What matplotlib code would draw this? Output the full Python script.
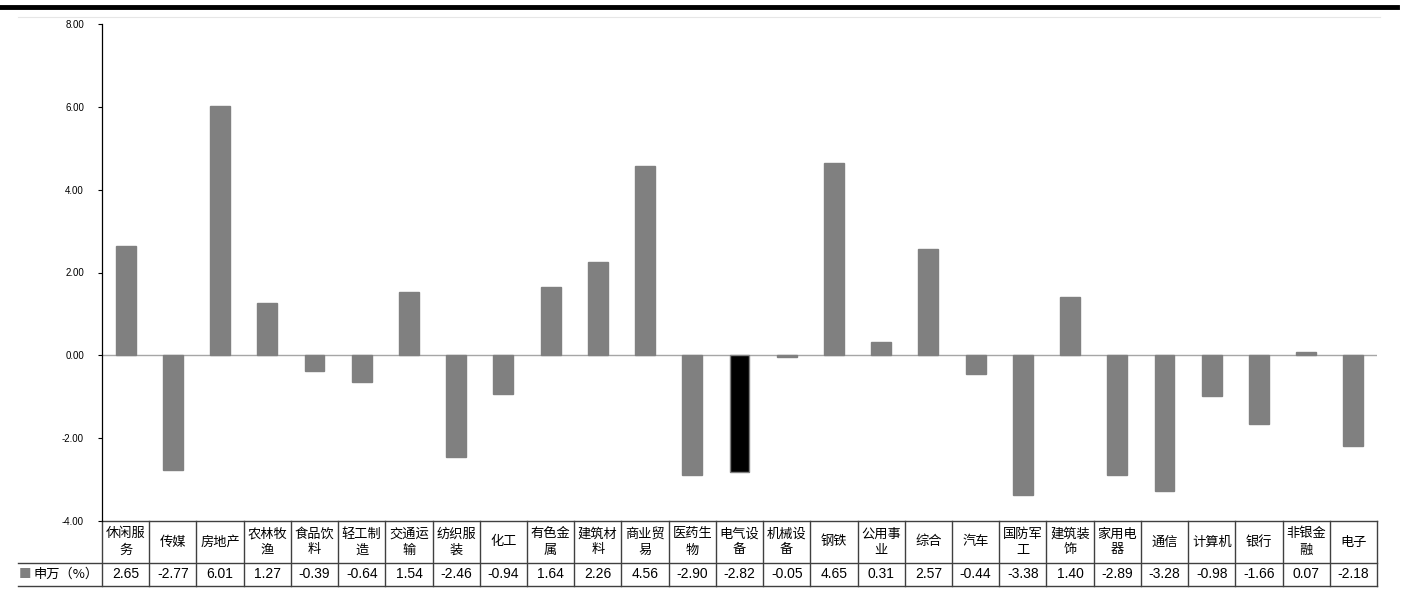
import matplotlib
matplotlib.use("Agg")
import matplotlib.pyplot as plt
import numpy as np

# Industry names (SW level-1) and weekly change in %
industries = ["休闲服务", "传媒", "房地产", "农林牧渔", "食品饮料", "轻工制造", "交通运输",
              "纺织服装", "化工", "有色金属", "建筑材料", "商业贸易", "医药生物", "电气设备",
              "机械设备", "钢铁", "公用事业", "综合", "汽车", "国防军工", "建筑装饰",
              "家用电器", "通信", "计算机", "银行", "非银金融", "电子"]
changes = [2.65, -2.77, 6.01, 1.27, -0.39, -0.64, 1.54, -2.46, -0.94, 1.64, 2.26, 4.56,
           -2.90, -2.82, -0.05, 4.65, 0.31, 2.57, -0.44, -3.38, 1.40, -2.89, -3.28, -0.98,
           -1.66, 0.07, -2.18]
highlight = "电气设备"
series_name = "申万（%）"
y_ticks = [-4, -2, 0, 2, 4, 6, 8]

cjk = ["Noto Sans CJK SC", "DejaVu Sans"]
num_font = ["Liberation Sans", "DejaVu Sans"]

fig = plt.figure(figsize=(14.03, 5.89), dpi=100)
ax = fig.add_axes([102 / 1403, (589 - 521) / 589, (1377 - 102) / 1403, (521 - 24) / 589])

x = np.arange(len(industries))
colors = ["#000000" if n == highlight else "#808080" for n in industries]
ax.bar(x, changes, width=0.42, color=colors, edgecolor="#808080", linewidth=1.0, zorder=3)
ax.axhline(0, color="#a6a6a6", linewidth=1.0, zorder=2)

ax.set_xlim(-0.5, len(industries) - 0.5)
ax.set_ylim(-4, 8)
ax.set_yticks(y_ticks)
ax.set_yticklabels(["{:.2f}".format(v) for v in y_ticks], fontsize=7, family=num_font)
ax.tick_params(axis="y", direction="out", length=3, width=0.8, pad=10)
ax.set_xticks([])
for s in ["top", "right", "bottom"]:
    ax.spines[s].set_visible(False)
ax.spines["left"].set_color("#000000")
ax.spines["left"].set_linewidth(0.9)

# Data table under the axes
tr = ax.get_xaxis_transform()
ax_h = 521 - 24
r1 = -42 / ax_h
r2 = -65 / ax_h
x_left = (18 - 102) / (1377 - 102) * len(industries) - 0.5

line_kw = dict(color="#404040", linewidth=1.0, transform=tr, clip_on=False)
ax.plot([-0.5, len(industries) - 0.5], [0, 0], **line_kw)
ax.plot([x_left, len(industries) - 0.5], [r1, r1], **line_kw)
ax.plot([x_left, len(industries) - 0.5], [r2, r2], **line_kw)
for i in range(len(industries) + 1):
    ax.plot([i - 0.5, i - 0.5], [0, r2], **line_kw)

for i, (name, val) in enumerate(zip(industries, changes)):
    label = name if len(name) <= 3 else name[:3] + "\n" + name[3:]
    ax.text(i, r1 / 2, label, transform=tr, ha="center", va="center", fontsize=9.5,
            family=cjk, linespacing=1.3, clip_on=False)
    ax.text(i, (r1 + r2) / 2, "{:.2f}".format(val), transform=tr, ha="center", va="center",
            fontsize=10, family=num_font, clip_on=False)

ax.text(x_left + 0.02, (r1 + r2) / 2, "■", transform=tr, ha="left", va="center",
        fontsize=9, color="#808080", family=cjk, clip_on=False)
ax.text(x_left + 0.32, (r1 + r2) / 2, series_name, transform=tr, ha="left", va="center",
        fontsize=9.5, family=cjk, clip_on=False)

# Heavy rule at the top of the page and faint grid line below it
fig.add_artist(plt.Line2D([0, 1397 / 1403], [1 - 7 / 589, 1 - 7 / 589],
                          color="black", linewidth=3.5))
fig.add_artist(plt.Line2D([18 / 1403, 1380 / 1403], [1 - 17 / 589, 1 - 17 / 589],
                          color="#e6e6e6", linewidth=0.8))

fig.savefig("out.png", dpi=100)
